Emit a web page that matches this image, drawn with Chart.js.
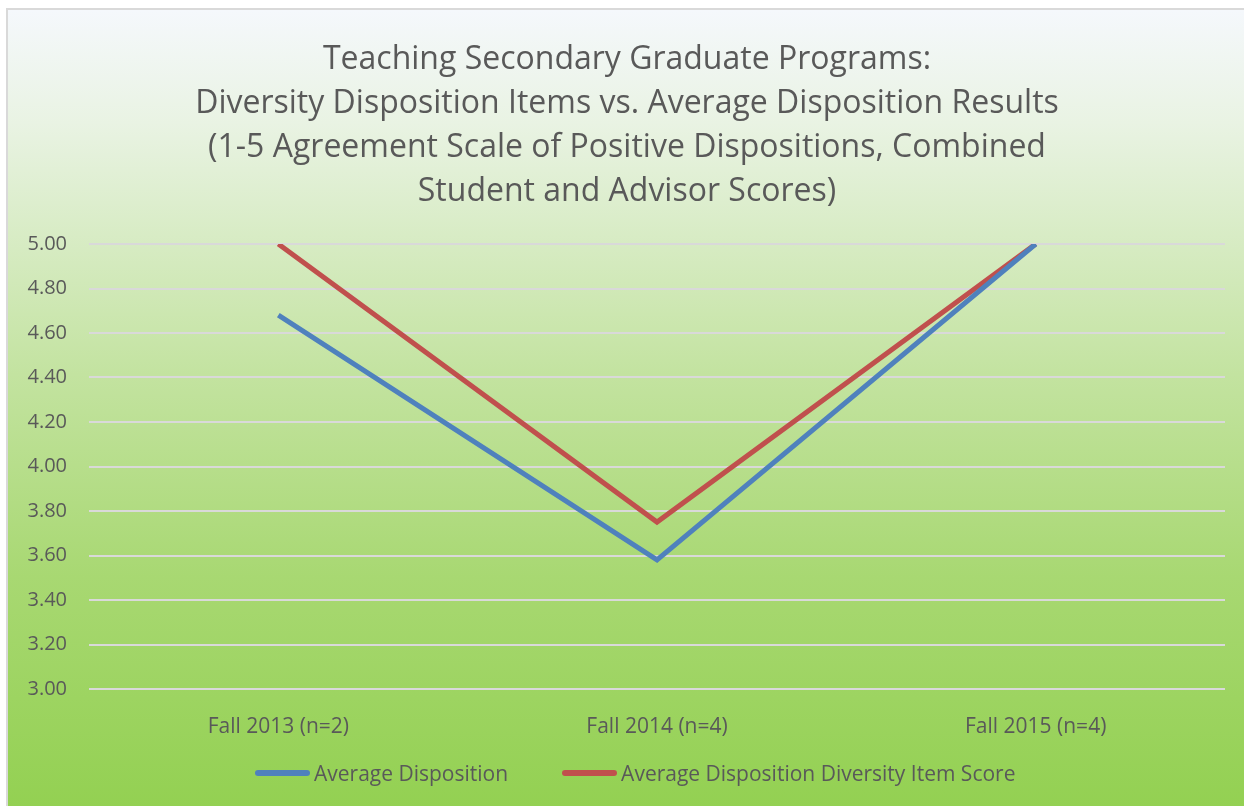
<!DOCTYPE html>
<html>
<head>
<meta charset="utf-8">
<script src="https://cdn.jsdelivr.net/npm/chart.js@4"></script>
<style>
  html, body { margin: 0; padding: 0; background: #fff; overflow: hidden; }
  #wrap {
    position: absolute; left: 6px; top: 8px;
    width: 1250px; height: 810px;
    border-left: 2px solid #d9d9d9; border-top: 2px solid #d9d9d9;
    background: linear-gradient(to bottom, #f5f8fc 0%, #e9f3e3 14%, #c3e3a0 45%, #a8d872 70%, #92d050 100%);
  }
  canvas { position: absolute; left: 0; top: 0; }
  .legend {
    position: absolute; left: 247px; top: 749px;
    display: flex; gap: 54px;
    font-family: 'Open Sans', 'Noto Sans', sans-serif; font-size: 21px; color: #595959;
  }
  .legend div { display: flex; align-items: center; }
  .legend i { display: inline-block; width: 55px; height: 6px; border-radius: 3px; margin-right: 4px; }
</style>
</head>
<body>
<div id="wrap"><canvas id="chart" width="1238" height="798"></canvas><div class="legend"></div></div>
<script>
const categories = ["Fall 2013 (n=2)", "Fall 2014 (n=4)", "Fall 2015 (n=4)"];
const avgDisposition = [4.68, 3.58, 5.00];
const diversityScore = [5.00, 3.75, 5.00];
const titleLines = [
    "Teaching Secondary Graduate Programs:",
    "Diversity Disposition Items vs. Average Disposition Results",
    "(1-5 Agreement Scale of Positive Dispositions, Combined",
    "Student and Advisor Scores)",
];

const font = "'Open Sans', 'Noto Sans', sans-serif";
const textColor = "#595959";

const data = {
    labels: categories,
    datasets: [
        {
            label: "Average Disposition",
            data: avgDisposition,
            borderColor: "#4f81bd",
            backgroundColor: "#4f81bd",
            borderWidth: 5,
            pointRadius: 0,
            tension: 0,
            clip: 0,
        },
        {
            label: "Average Disposition Diversity Item Score",
            data: diversityScore,
            borderColor: "#c0504d",
            backgroundColor: "#c0504d",
            borderWidth: 5,
            pointRadius: 0,
            tension: 0,
            clip: 0,
        },
    ],
};

const config = {
    type: "line",
    data: data,
    options: {
        responsive: false,
        animation: false,
        layout: { padding: { left: 0, right: 0, top: 12, bottom: 59 } },
        plugins: {
            title: {
                display: true,
                text: titleLines,
                color: textColor,
                font: { family: font, size: 32, weight: "normal", lineHeight: 1.375 },
                padding: { top: 16, bottom: 30 },
            },
            legend: { display: false },
            tooltip: { enabled: false },
        },
        scales: {
            x: {
                offset: true,
                grid: { display: false },
                border: { display: false },
                ticks: { color: textColor, font: { family: font, size: 21 }, padding: 17 },
                afterFit: (axis) => { axis.height = 60; },
            },
            y: {
                min: 3,
                max: 5,
                ticks: {
                    stepSize: 0.2,
                    color: textColor,
                    font: { family: font, size: 20 },
                    padding: 22,
                    callback: (v) => v.toFixed(2),
                },
                grid: { color: "#d9d9d9", lineWidth: 2, drawTicks: false },
                border: { display: false },
                afterFit: (axis) => { axis.width = 81; },
            },
            // empty right margin so the title stays centred on the whole chart
            y2: {
                position: "right",
                grid: { display: false },
                border: { display: false },
                ticks: { display: false },
                afterFit: (axis) => { axis.width = 21; },
            },
        },
    },
};

const chartD = document.getElementById("chart");
const myChart = new Chart(chartD, config);

const createLegend = (data) => {
    if (!data) return;
    const legendArea = document.querySelector(".legend");
    data.datasets.forEach((ds) => {
        const div = document.createElement("div");
        const i = document.createElement("i");
        i.style.backgroundColor = ds.borderColor;
        div.append(i, ds.label);
        legendArea.append(div);
    });
};
createLegend(data);
</script>
</body>
</html>
